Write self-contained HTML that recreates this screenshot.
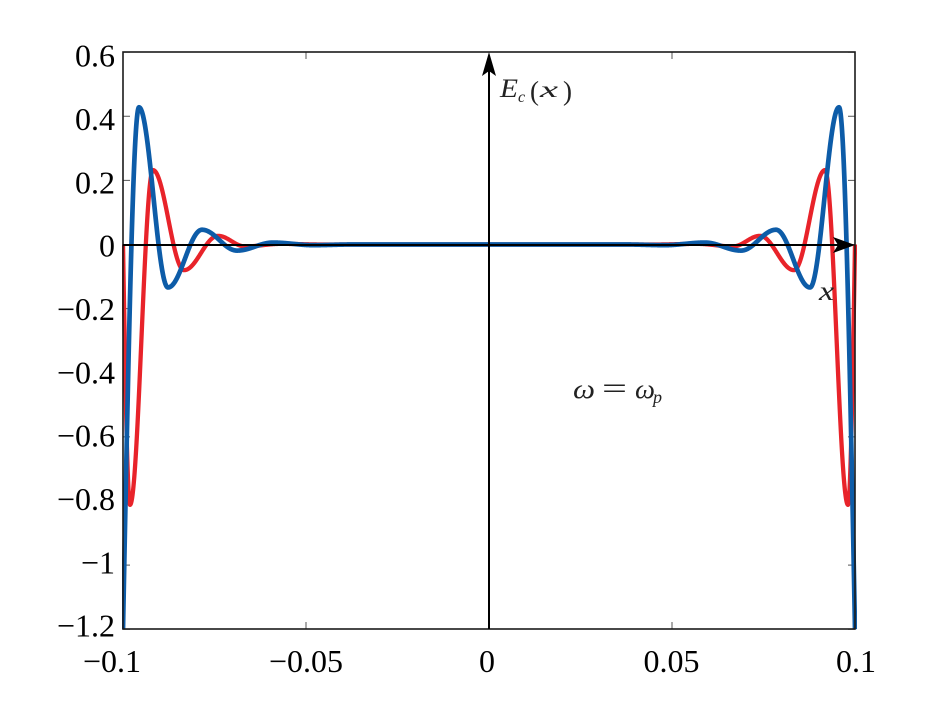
<!DOCTYPE html>
<html>
<head>
<meta charset="utf-8">
<style>
  html, body { margin: 0; padding: 0; background: #ffffff; }
  body { width: 945px; height: 708px; overflow: hidden; }
  svg { display: block; }
  .tl { font-family: "Liberation Serif", "DejaVu Serif", serif; font-size: 32px; fill: #000; }
  .it { font-family: "Liberation Serif", "DejaVu Serif", serif; font-style: italic; fill: #222; }
  .up { font-family: "Liberation Serif", "DejaVu Serif", serif; fill: #222; }
</style>
</head>
<body>
<svg id="chart" width="945" height="708" viewBox="0 0 945 708" xmlns="http://www.w3.org/2000/svg">
  <defs>
    <clipPath id="clip"><rect x="122" y="50" width="735" height="581"/></clipPath>
  </defs>
  <rect x="0" y="0" width="945" height="708" fill="#ffffff"/>

  <!-- ticks -->
  <g id="ticks" stroke="#555" stroke-width="1"></g>

  <!-- curves -->
  <g clip-path="url(#clip)" fill="none" stroke-linejoin="round" stroke-linecap="butt">
    <path id="red" stroke="#e8232a" stroke-width="4.3"/>
    <path id="blue" stroke="#0d5ca8" stroke-width="4.7"/>
  </g>

  <!-- frame -->
  <rect x="123" y="52" width="732" height="577" fill="none" stroke="#1a1a1a" stroke-width="1.6"/>

  <!-- axes arrows -->
  <line x1="123" y1="245" x2="840" y2="245" stroke="#000" stroke-width="2"/>
  <path d="M855,245 L833,237 L838,245 L833,253 Z" fill="#000"/>
  <line x1="489" y1="629" x2="489" y2="68" stroke="#000" stroke-width="2"/>
  <path d="M489,52 L482,76 L489,71 L496,76 Z" fill="#000"/>

  <!-- E_c(x) label -->
  <text class="it" x="500" y="97" font-size="26" textLength="18" lengthAdjust="spacingAndGlyphs">E</text>
  <text class="it" x="518" y="102" font-size="16">c</text>
  <text class="up" x="530" y="100" font-size="27">(</text>
  <text class="it" x="540" y="97" font-size="23" textLength="18" lengthAdjust="spacingAndGlyphs">x</text>
  <text class="up" x="563" y="100" font-size="27">)</text>

  <!-- x label -->
  <text class="it" x="819" y="300" font-size="27" textLength="15" lengthAdjust="spacingAndGlyphs">x</text>

  <!-- omega label -->
  <text class="it" x="573" y="398" font-size="27" textLength="22" lengthAdjust="spacingAndGlyphs">ω</text>
  <text class="up" x="602" y="398" font-size="30" textLength="25" lengthAdjust="spacingAndGlyphs">=</text>
  <text class="it" x="635" y="398" font-size="27" textLength="20" lengthAdjust="spacingAndGlyphs">ω</text>
  <text class="it" x="653" y="403" font-size="18">p</text>

  <!-- y tick labels -->
  <g class="tl" text-anchor="end">
    <text x="115" y="66.7">0.6</text>
    <text x="115" y="130">0.4</text>
    <text x="115" y="193.4">0.2</text>
    <text x="115" y="256.7">0</text>
    <text x="115" y="320">−0.2</text>
    <text x="115" y="383.4">−0.4</text>
    <text x="115" y="446.7">−0.6</text>
    <text x="115" y="510">−0.8</text>
    <text x="115" y="573.4">−1</text>
    <text x="115" y="636.7">−1.2</text>
  </g>

  <!-- x tick labels -->
  <g class="tl" text-anchor="middle">
    <text x="112" y="672">−0.1</text>
    <text x="306" y="672">−0.05</text>
    <text x="487" y="672">0</text>
    <text x="671.5" y="672">0.05</text>
    <text x="856" y="672">0.1</text>
  </g>
</svg>
<script>
(function(){
  var L = 123, R = 855, Y0 = 244.5, S = 320.6;
  function yv(v){ return Y0 - v*S; }
  var blueK = [[0,-1.2],[16,0.428],[45,-0.134],[79,0.046],[114,-0.019],[150,0.006],[190,-0.002],[230,0]];
  var redK  = [[0,0],[7,-0.812],[30,0.232],[61,-0.08],[95,0.027],[122,-0.006],[158,0.002],[200,0]];
  function f(k, d){
    if (d >= k[k.length-1][0]) return 0;
    for (var i=0;i<k.length-1;i++){
      if (d >= k[i][0] && d <= k[i+1][0]){
        var t = (d-k[i][0])/(k[i+1][0]-k[i][0]);
        var s = (i===0) ? Math.sin(Math.PI/2*t) : (1-Math.cos(Math.PI*t))/2;
        return k[i][1] + (k[i+1][1]-k[i][1])*s;
      }
    }
    return 0;
  }
  function build(k){
    var p = [];
    for (var x=L; x<=R+0.001; x+=0.25){
      var d = Math.min(x-L, R-x);
      if (d < 0) d = 0;
      p.push((p.length?'L':'M') + x.toFixed(2) + ',' + yv(f(k,d)).toFixed(2));
    }
    return p.join('');
  }
  document.getElementById('red').setAttribute('d', build(redK));
  document.getElementById('blue').setAttribute('d', build(blueK));

  var g = document.getElementById('ticks'), ns = 'http://www.w3.org/2000/svg';
  function ln(x1,y1,x2,y2){
    var e = document.createElementNS(ns,'line');
    e.setAttribute('x1',x1);e.setAttribute('y1',y1);e.setAttribute('x2',x2);e.setAttribute('y2',y2);
    g.appendChild(e);
  }
  var vals = [0.6,0.4,0.2,0,-0.2,-0.4,-0.6,-0.8,-1,-1.2];
  vals.forEach(function(v){
    var y = yv(v);
    ln(L,y,L+7,y); ln(R-7,y,R,y);
  });
  [306,672].forEach(function(x){
    ln(x,629,x,622); ln(x,52,x,59);
  });
})();
</script>
</body>
</html>
